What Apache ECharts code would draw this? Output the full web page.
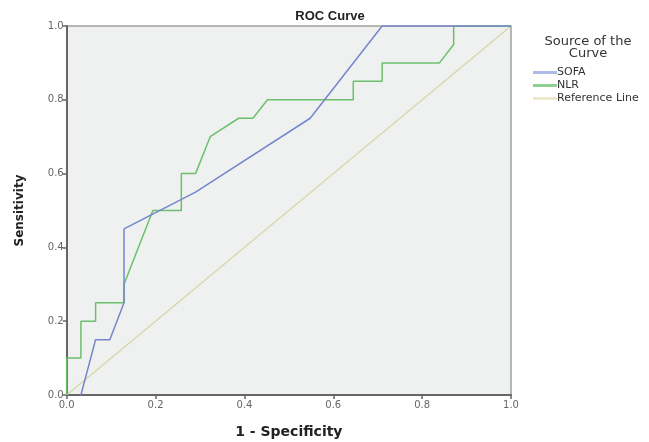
<!DOCTYPE html>
<html>
<head>
<meta charset="utf-8">
<script src="https://cdn.jsdelivr.net/npm/echarts@6/dist/echarts.min.js"></script>
<style>
html,body{margin:0;padding:0;background:#fff;}
#chart{width:649px;height:442px;}
</style>
</head>
<body>
<div id="chart"></div>
<script>
// ---- Data ----
var xTicks = [0.0, 0.2, 0.4, 0.6, 0.8, 1.0];
var yTicks = [0.0, 0.2, 0.4, 0.6, 0.8, 1.0];

var sofaX = [0.032, 0.065, 0.097, 0.129, 0.129, 0.290, 0.548, 0.710, 1.000];
var sofaY = [0.000, 0.150, 0.150, 0.250, 0.450, 0.550, 0.750, 1.000, 1.000];

var nlrX = [0.000, 0.000, 0.032, 0.032, 0.065, 0.065, 0.129, 0.129, 0.194, 0.258, 0.258, 0.290, 0.323, 0.387, 0.419, 0.452, 0.645, 0.645, 0.710, 0.710, 0.839, 0.871, 0.871, 1.000];
var nlrY = [0.000, 0.100, 0.100, 0.200, 0.200, 0.250, 0.250, 0.300, 0.500, 0.500, 0.600, 0.600, 0.700, 0.750, 0.750, 0.800, 0.800, 0.850, 0.850, 0.900, 0.900, 0.950, 1.000, 1.000];

var refX = [0, 1];
var refY = [0, 1];

var seriesNames = ['SOFA', 'NLR', 'Reference Line'];

function pairs(xs, ys) {
  return xs.map(function (x, i) { return [x, ys[i]]; });
}

var chart = echarts.init(document.getElementById('chart'), null, {renderer: 'canvas'});
var font = '"Liberation Sans", Arial, sans-serif';
var wide = '"DejaVu Sans", sans-serif';

var option = {
  animation: false,
  backgroundColor: '#ffffff',
  title: [
    {
      text: 'ROC Curve',
      left: 325, top: 5, textAlign: 'center',
      textStyle: {fontFamily: font, fontSize: 13, fontWeight: 'bold', color: '#222'}
    },
    {
      text: 'Source of the\nCurve',
      left: 583, top: 31, textAlign: 'center',
      textStyle: {fontFamily: wide, fontSize: 13, fontWeight: 'normal', color: '#333', lineHeight: 12}
    }
  ],
  legend: {
    orient: 'vertical',
    left: 528, top: 61,
    itemWidth: 24, itemHeight: 3, itemGap: 0,
    data: seriesNames.map(function (n) { return {name: n, icon: 'rect'}; }),
    textStyle: {fontFamily: wide, fontSize: 11, color: '#333', lineHeight: 13, padding: [0, 0, 0, -5]},
    selectedMode: false
  },
  grid: {
    left: 66.7, right: 138, top: 26, bottom: 47,
    outerBoundsMode: 'none',
    containLabel: false,
    show: true,
    backgroundColor: '#eff1f0',
    borderColor: '#a0a0a0',
    borderWidth: 1.5
  },
  xAxis: {
    type: 'value', min: 0, max: 1, interval: 0.2,
    name: '1 - Specificity',
    nameLocation: 'middle', nameGap: 30,
    nameTextStyle: {fontFamily: wide, fontSize: 14, fontWeight: 'bold', color: '#222'},
    axisLine: {show: true, onZero: false, lineStyle: {color: '#666', width: 2}},
    axisTick: {show: true, length: 4, lineStyle: {color: '#666', width: 1.5}},
    axisLabel: {fontFamily: wide, fontSize: 10, color: '#666', margin: 5,
      formatter: function (v) { return xTicks.indexOf(Math.round(v * 10) / 10) >= 0 ? v.toFixed(1) : ''; }},
    splitLine: {show: false}
  },
  yAxis: {
    type: 'value', min: 0, max: 1, interval: 0.2,
    name: 'Sensitivity',
    nameLocation: 'middle', nameGap: 41, nameRotate: 90,
    nameTextStyle: {fontFamily: wide, fontSize: 12, fontWeight: 'bold', color: '#222'},
    axisLine: {show: true, onZero: false, lineStyle: {color: '#666', width: 2}},
    axisTick: {show: true, length: 4, lineStyle: {color: '#666', width: 1.5}},
    axisLabel: {fontFamily: wide, fontSize: 10, color: '#666', margin: 3,
      formatter: function (v) { return yTicks.indexOf(Math.round(v * 10) / 10) >= 0 ? v.toFixed(1) : ''; }},
    splitLine: {show: false}
  },
  series: [
    {
      name: seriesNames[0], type: 'line', data: pairs(sofaX, sofaY),
      showSymbol: false, symbol: 'none',
      lineStyle: {color: '#7585cc', width: 1.5},
      itemStyle: {color: '#b0bae6'}, z: 4
    },
    {
      name: seriesNames[1], type: 'line', data: pairs(nlrX, nlrY),
      showSymbol: false, symbol: 'none',
      lineStyle: {color: '#6cc06c', width: 1.5},
      itemStyle: {color: '#8fd08f'}, z: 3
    },
    {
      name: seriesNames[2], type: 'line', data: pairs(refX, refY),
      showSymbol: false, symbol: 'none',
      lineStyle: {color: '#d8d4a4', width: 1.2},
      itemStyle: {color: '#ece9cc'}, z: 2
    }
  ]
};
chart.setOption(option);
</script>
</body>
</html>
